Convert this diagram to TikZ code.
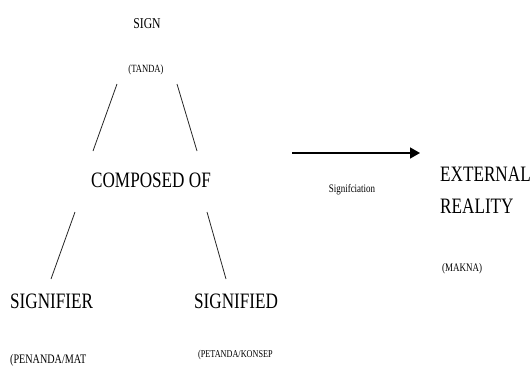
\documentclass[tikz,border=0pt]{standalone}
\usepackage{fontspec}
\setmainfont{Liberation Serif}[FakeStretch=0.78]
\usepackage{tikz}
\usetikzlibrary{positioning,arrows.meta}

\begin{document}
\begin{tikzpicture}[x=1pt,y=-1pt]
        \tikzstyle{every node}=[inner sep=0pt, text=black]
        \tikzstyle{big}=[font=\fontsize{22}{24}\selectfont]
        \tikzstyle{tiny}=[font=\fontsize{10.5}{12}\selectfont]
        \tikzstyle{leg}=[draw=black!85, line width=0.8pt]

        \useasboundingbox (0,0) rectangle (531,365);

        % top of the tree
        \node (sign)  [anchor=base, font=\fontsize{15}{17}\selectfont] at (147,28) {SIGN};
        \node (tanda) [anchor=base, font=\fontsize{11}{13}\selectfont] at (146,72) {(TANDA)};
        \node (comp)  [anchor=base, big] at (151,187) {COMPOSED OF};

        % bottom of the tree
        \node (sfier) [anchor=base west, big] at (10,308) {SIGNIFIER};
        \node (sfied) [anchor=base west, big] at (194,308) {SIGNIFIED};
        \node (penanda) [anchor=base west, font=\fontsize{13}{15}\selectfont] at (10,363) {(PENANDA/MAT};
        \node (petanda) [anchor=base west, tiny] at (198,357) {(PETANDA/KONSEP};

        % right side
        \node (ext)   [anchor=base west, big] at (440,181) {EXTERNAL};
        \node (real)  [anchor=base west, big] at (440,213) {REALITY};
        \node (makna) [anchor=base west, font=\fontsize{11.5}{13}\selectfont] at (442,271) {(MAKNA)};
        \node (sgf)   [anchor=base, font=\fontsize{11.5}{13}\selectfont] at (352,192) {Signifciation};

        \coordinate (ul1) at (117,84);  \coordinate (ul2) at (93,151);
        \coordinate (ur1) at (177,84);  \coordinate (ur2) at (197,151);
        \coordinate (ll1) at (75,212);  \coordinate (ll2) at (51,279);
        \coordinate (lr1) at (207,212); \coordinate (lr2) at (226,279);
        \coordinate (a1) at (292,153);  \coordinate (a2) at (420,153);

        \draw[leg] (ul1) -- (ul2);
        \draw[leg] (ur1) -- (ur2);
        \draw[leg] (ll1) -- (ll2);
        \draw[leg] (lr1) -- (lr2);
        \draw[line width=1.6pt, -{Triangle[length=10pt,width=11pt]}] (a1) -- (a2);

    \end{tikzpicture}
\end{document}
